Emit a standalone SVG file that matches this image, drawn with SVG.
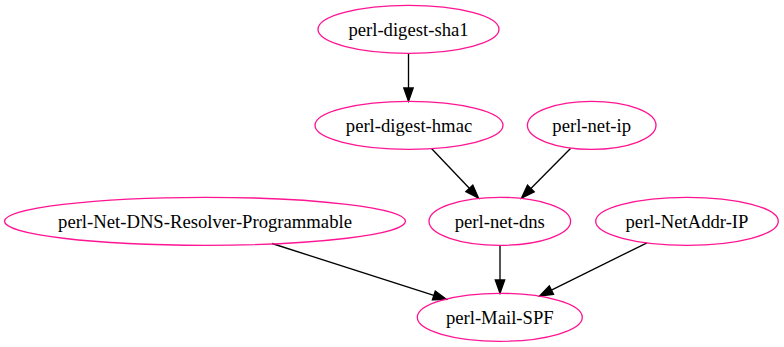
<svg xmlns="http://www.w3.org/2000/svg" width="784" height="347" viewBox="0 0 784 347">
  <style>
    .node ellipse { fill: none; stroke: #ff1493; stroke-width: 1.33; }
    .node text { font-family: 'Liberation Serif', serif; font-size: 18.67px; text-anchor: middle; fill: #000; }
    .edge line { stroke: #000; stroke-width: 1.33; }
    .edge polygon { fill: #000; stroke: #000; stroke-width: 1.33; }
  </style>
  <rect width="784" height="347" fill="#fff"/>

  <g id="edges">
    <g class="edge" id="sha1-hmac">
      <line x1="408.5" y1="53.3" x2="408.5" y2="88"/>
      <polygon points="403.8,88 408.5,101.3 413.2,88"/>
    </g>
    <g class="edge" id="hmac-dns">
      <line x1="431.5" y1="148.5" x2="469.3" y2="188.3"/>
      <polygon points="465.9,191.6 478.5,198 472.8,185.1"/>
    </g>
    <g class="edge" id="ip-dns">
      <line x1="570.5" y1="148.5" x2="530.9" y2="188.5"/>
      <polygon points="534.2,191.9 521.5,198 527.5,185.2"/>
    </g>
    <g class="edge" id="resolver-spf">
      <line x1="272" y1="243.5" x2="433.8" y2="295.4"/>
      <polygon points="432.4,299.9 446.5,299.5 435.3,291"/>
    </g>
    <g class="edge" id="dns-spf">
      <line x1="500" y1="245.3" x2="500" y2="280"/>
      <polygon points="495.3,280 500,293.3 504.7,280"/>
    </g>
    <g class="edge" id="netaddr-spf">
      <line x1="647" y1="242.8" x2="551.4" y2="290.1"/>
      <polygon points="553.5,294.3 539.5,296 549.3,285.9"/>
    </g>
  </g>

  <g class="node" id="perl-digest-sha1">
    <ellipse cx="408.5" cy="29.3" rx="90.5" ry="24"/>
    <text x="408.5" y="35.5">perl-digest-sha1</text>
  </g>
  <g class="node" id="perl-digest-hmac">
    <ellipse cx="409" cy="125.3" rx="94" ry="24"/>
    <text x="409" y="131.5">perl-digest-hmac</text>
  </g>
  <g class="node" id="perl-net-ip">
    <ellipse cx="591.7" cy="125.3" rx="64.3" ry="24"/>
    <text x="591.7" y="131.5">perl-net-ip</text>
  </g>
  <g class="node" id="perl-Net-DNS-Resolver-Programmable">
    <ellipse cx="205" cy="221.3" rx="200.5" ry="24"/>
    <text x="205" y="227.5">perl-Net-DNS-Resolver-Programmable</text>
  </g>
  <g class="node" id="perl-net-dns">
    <ellipse cx="499.8" cy="221.3" rx="70.8" ry="24"/>
    <text x="499.8" y="227.5">perl-net-dns</text>
  </g>
  <g class="node" id="perl-NetAddr-IP">
    <ellipse cx="687" cy="221.3" rx="91.3" ry="24"/>
    <text x="687" y="227.5">perl-NetAddr-IP</text>
  </g>
  <g class="node" id="perl-Mail-SPF">
    <ellipse cx="499.8" cy="317.3" rx="82.5" ry="24"/>
    <text x="499.8" y="323.5">perl-Mail-SPF</text>
  </g>
</svg>
